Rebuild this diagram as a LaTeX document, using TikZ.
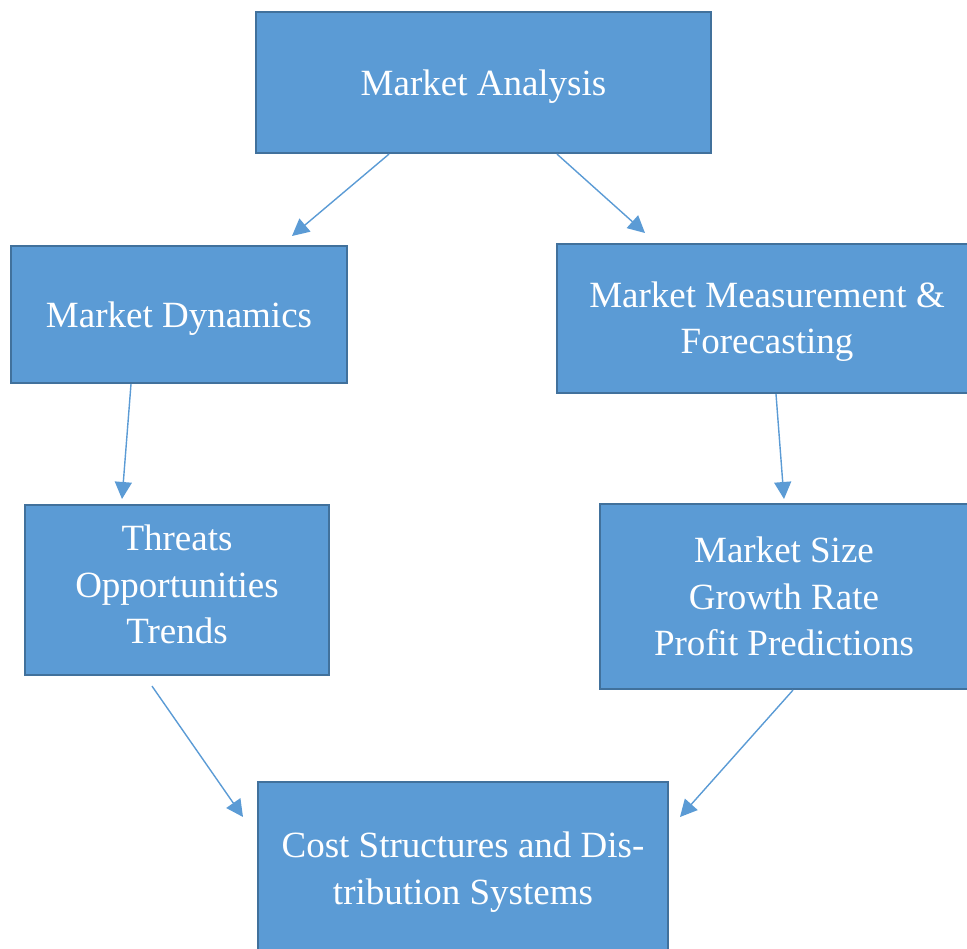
\documentclass[tikz,border=0pt]{standalone}
\usepackage{fontspec}
\setmainfont{Liberation Serif}
\usetikzlibrary{arrows.meta}
\definecolor{boxfill}{HTML}{5B9BD5}
\definecolor{boxline}{HTML}{41719C}
\tikzset{
  box/.style={draw=boxline, line width=2.2pt, fill=boxfill, text=white, align=center,
    font=\fontsize{37}{46.5}\selectfont, inner sep=0pt},
  conn/.style={draw=boxfill, line width=1.4pt, -{Triangle[length=17pt,width=17pt]}}
}
\begin{document}
\begin{tikzpicture}[x=1pt,y=-1pt]
\useasboundingbox (0,0) rectangle (967,949);
\node[box, text depth=0pt, minimum width=455pt, minimum height=141pt] (ma) at (483.5,82.5) {Market Analysis};
\node[box, text depth=0pt, minimum width=336pt, minimum height=137pt] (md) at (179,314.5) {Market Dynamics};
\node[box, text depth=1.5pt, minimum width=420pt, minimum height=149pt] (mm) at (767,318.5) {Market Measurement \&\\Forecasting};
\node[box, text depth=11pt, minimum width=304pt, minimum height=170pt] (to) at (177,590) {Threats\\Opportunities\\Trends};
\node[box, minimum width=368pt, minimum height=185pt] (ms) at (784,596.5) {Market Size\\Growth Rate\\Profit Predictions};
\node[box, text depth=0pt, minimum width=410pt, minimum height=172pt] (cs) at (463,868) {Cost Structures and Dis-\\tribution Systems};
\coordinate (e1) at (292,236);
\coordinate (e2) at (645,233);
\coordinate (e3) at (122,499);
\coordinate (e4) at (784,499);
\coordinate (e5) at (243,817);
\coordinate (e6) at (680,817);
\draw[conn] ([xshift=-94.5pt]ma.south) -- (e1);
\draw[conn] ([xshift=73.5pt]ma.south) -- (e2);
\draw[conn] ([xshift=-48pt]md.south) -- (e3);
\draw[conn] ([xshift=9pt]mm.south) -- (e4);
\draw[conn] ([xshift=-25pt,yshift=-10pt]to.south) -- (e5);
\draw[conn] ([xshift=9pt]ms.south) -- (e6);
\end{tikzpicture}
\end{document}
